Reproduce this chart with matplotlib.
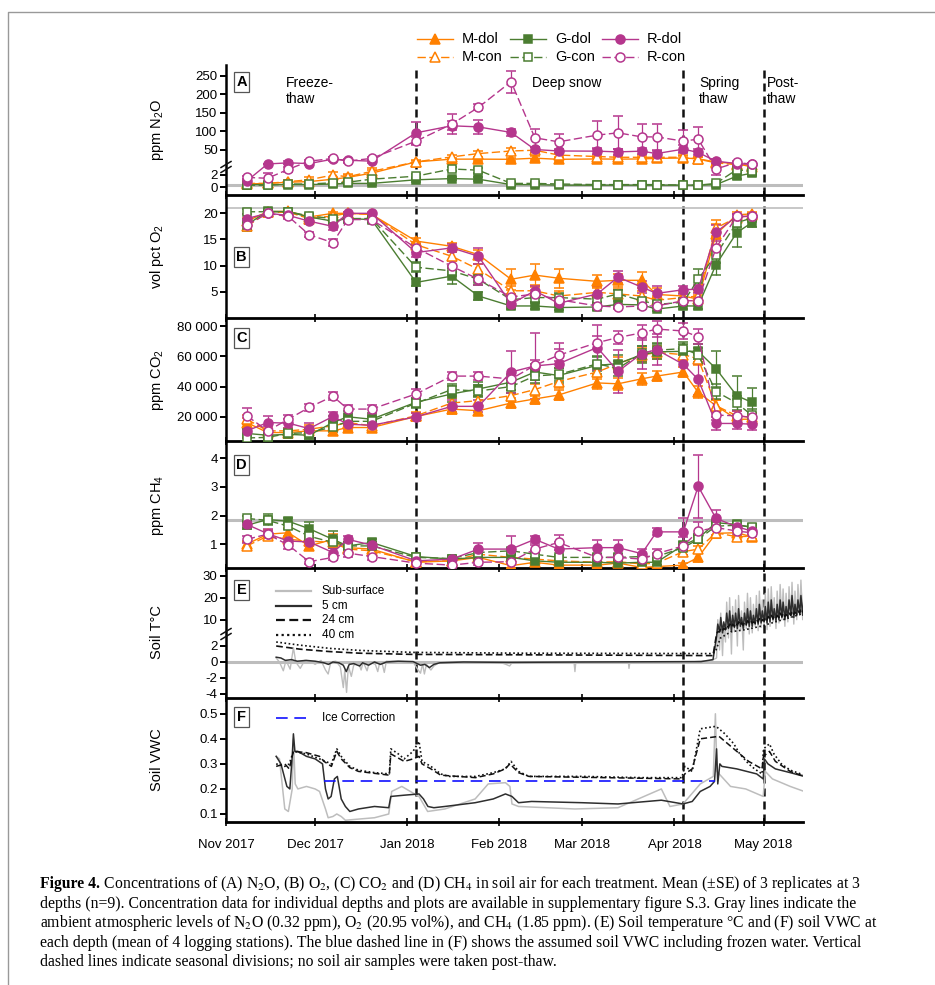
import datetime as dt
import numpy as np
import matplotlib
matplotlib.use("Agg")
import matplotlib.pyplot as plt
from matplotlib.lines import Line2D

plt.rcParams['font.family'] = ['Liberation Sans', 'DejaVu Sans']
plt.rcParams['mathtext.fontset'] = 'custom'
plt.rcParams['mathtext.rm'] = 'Liberation Sans'
plt.rcParams['mathtext.it'] = 'Liberation Sans:italic'
plt.rcParams['mathtext.bf'] = 'Liberation Sans:bold'

W, H = 935, 985
START = dt.date(2017, 11, 1)

# ---- soil-air sampling dates and treatment means (+SE) ----
sample_dates = ['2017-11-08', '2017-11-15', '2017-11-22', '2017-11-29', '2017-12-07',
                '2017-12-12', '2017-12-20', '2018-01-04', '2018-01-16', '2018-01-25',
                '2018-02-05', '2018-02-13', '2018-02-21', '2018-03-06', '2018-03-13',
                '2018-03-21', '2018-03-26', '2018-04-04', '2018-04-09', '2018-04-15',
                '2018-04-22', '2018-04-27']

# N2O (ppm)
n2o_mdol = [0.5, 0.6, 0.8, 0.9, 1.3, 1.6, 2.3, 17.6, 25, 25, 24.5, 27.6, 24.5, 25.5, 25, 25.5, 27, 28, 26, 17, 13, 4]
n2o_mcon = [0.6, 0.6, 0.9, 1.2, 2.0, 1.7, 2.6, 17.6, 31, 40, 47, 49, 36, 32, 30, 30, 30, 30, 25, 15, 10, 8]
n2o_gdol = [0.4, 0.4, 0.4, 0.4, 0.5, 0.6, 0.6, 1.2, 1.4, 1.3, 0.4, 0.4, 0.3, 0.3, 0.3, 0.3, 0.3, 0.3, 0.3, 0.4, 1.8, 2.3]
n2o_gcon = [0.3, 0.3, 0.5, 0.5, 0.7, 0.8, 1.3, 1.8, 3.0, 2.8, 0.6, 0.6, 0.5, 0.4, 0.4, 0.4, 0.4, 0.3, 0.3, 0.6, 2.9, 2.6]
n2o_rdol = [1.0, 12, 15, 13, 25, 22, 19.5, 96, 115, 112, 97, 51, 47, 46.5, 44.6, 46.5, 40, 52, 43, 19.5, 13, 10.6]
n2o_rcon = [1.6, 1.45, 2.95, 19.5, 26.8, 19.5, 27, 73.6, 119.5, 164.6, 234, 82.5, 71.7, 89.8, 96, 85, 85, 73.6, 79, 3.0, 16, 11.4]
n2o_mdol_se = [0.2, 0.2, 0.2, 0.3, 0.4, 0.4, 0.5, 3, 4, 4, 4, 5, 4, 5, 5, 4, 5, 6, 6, 5, 3, 2]
n2o_mcon_se = [0.2, 0.2, 0.3, 0.4, 0.5, 0.5, 0.6, 4, 6, 8, 8, 8, 6, 5, 5, 5, 5, 6, 5, 4, 3, 2]
n2o_gdol_se = [0.1, 0.1, 0.1, 0.1, 0.1, 0.1, 0.2, 0.3, 0.3, 0.3, 0.1, 0.1, 0.1, 0.1, 0.1, 0.1, 0.1, 0.1, 0.1, 0.1, 0.4, 0.4]
n2o_gcon_se = [0.1, 0.1, 0.1, 0.1, 0.2, 0.2, 0.3, 0.4, 0.4, 0.4, 0.2, 0.2, 0.1, 0.1, 0.1, 0.1, 0.1, 0.1, 0.1, 0.2, 0.4, 0.4]
n2o_rdol_se = [0.3, 1.0, 4, 4, 5, 4, 4, 30, 12, 18, 10, 8, 6, 8, 8, 8, 8, 10, 8, 6, 4, 3]
n2o_rcon_se = [0.3, 0.8, 0.5, 4, 5, 4, 5, 10, 28, 8, 30, 25, 22, 37, 45, 35, 35, 30, 32, 1.0, 4, 3]

# O2 (vol %)
o2_mdol = [18.5, 20.3, 20.4, 19.3, 20, 20, 19.8, 14.7, 13.7, 12.1, 7.4, 8.2, 7.6, 7.0, 7.2, 7.2, 4.5, 4.2, 3.6, 16, 19.7, 19.9]
o2_mcon = [17.5, 20.2, 20.2, 19.0, 19.5, 20, 19.8, 14, 11.8, 9.3, 5.2, 5.2, 4.2, 4.9, 4.6, 4.2, 3.4, 3.9, 4.2, 17.2, 19.2, 19.6]
o2_gdol = [17.8, 20.4, 20.3, 19.3, 18.5, 19, 18.8, 6.8, 8.0, 4.2, 2.3, 2.3, 2.0, 2.1, 2.6, 2.5, 1.7, 2.3, 2.3, 10.2, 16.3, 18.2]
o2_gcon = [20.3, 20.3, 20.3, 19.5, 19, 19, 19, 9.7, 9.0, 7.4, 3.5, 3.9, 3.9, 3.6, 4.6, 3.3, 2.6, 3.0, 7.4, 12.1, 18.2, 19.1]
o2_rdol = [19, 20, 19.6, 18.5, 17.5, 20, 20, 12.5, 13.4, 11.8, 2.7, 5.2, 2.8, 4.6, 7.8, 5.9, 4.7, 5.4, 5.5, 16.4, 19.4, 19.4]
o2_rcon = [17.7, 20, 19.4, 15.9, 14.4, 18.8, 18.8, 13.4, 9.9, 7.4, 4.0, 4.6, 3.5, 2.3, 2.1, 2.3, 2.3, 3.3, 3.3, 13.4, 19.4, 19.4]
o2_mdol_se = [0.6, 0.3, 0.3, 0.4, 0.3, 0.3, 0.3, 0.5, 0.6, 0.8, 2.0, 2.2, 1.8, 1.2, 1.2, 1.5, 1.2, 1.0, 0.8, 2.0, 0.5, 0.4]
o2_mcon_se = [0.6, 0.3, 0.3, 0.4, 0.4, 0.3, 0.3, 0.6, 0.8, 1.0, 1.0, 1.2, 1.0, 1.0, 1.0, 1.0, 0.8, 0.8, 0.8, 1.5, 0.6, 0.4]
o2_gdol_se = [1.2, 0.3, 0.3, 0.5, 0.6, 0.5, 0.4, 0.7, 1.5, 0.7, 0.5, 0.5, 0.5, 0.5, 0.6, 0.5, 0.4, 0.5, 0.5, 2.0, 2.8, 0.8]
o2_gcon_se = [0.5, 0.3, 0.3, 0.4, 0.4, 0.4, 0.4, 1.0, 1.0, 1.0, 0.8, 0.8, 0.8, 0.6, 0.8, 0.6, 0.5, 0.6, 2.0, 1.5, 0.8, 0.5]
o2_rdol_se = [0.8, 0.3, 0.4, 0.6, 0.6, 0.3, 0.3, 0.8, 0.8, 1.5, 0.6, 1.0, 0.6, 1.5, 1.2, 1.2, 1.5, 0.8, 0.8, 1.4, 0.5, 0.5]
o2_rcon_se = [0.8, 0.3, 0.4, 0.5, 0.6, 0.4, 0.4, 0.8, 1.0, 1.0, 0.6, 0.8, 0.6, 0.4, 0.4, 0.4, 0.4, 0.6, 0.6, 1.4, 0.5, 0.5]

# CO2 (ppm)
co2_mdol = [16200, 9600, 9600, 10700, 10700, 12900, 12900, 20200, 25100, 24000, 29100, 31800, 34400, 42400, 41800, 45100, 46900, 49600, 36200, 27300, 18400, 18400]
co2_mcon = [18400, 10700, 10700, 11800, 14000, 16200, 14000, 20700, 29100, 30700, 34000, 38000, 43300, 49600, 55100, 60700, 62500, 61100, 58400, 27300, 20700, 19600]
co2_gdol = [9000, 7800, 8400, 7800, 16200, 20000, 18400, 29600, 35100, 38400, 42900, 49600, 47300, 54000, 55100, 61100, 62900, 63300, 63300, 51800, 34000, 29600]
co2_gcon = [6000, 6400, 9000, 9500, 13300, 17000, 17000, 29000, 38000, 37000, 40000, 47000, 48000, 55000, 52000, 62000, 64000, 65100, 61000, 36700, 29100, 21100]
co2_rdol = [10700, 16200, 15800, 12200, 20200, 15100, 14400, 20000, 26900, 26900, 49600, 53600, 55100, 65800, 50000, 61800, 64400, 54700, 44700, 15600, 15600, 15100]
co2_rcon = [20700, 10700, 18400, 26200, 33600, 25100, 25100, 35100, 46900, 46900, 45000, 54000, 60700, 69000, 72400, 75500, 78000, 76700, 72900, 21100, 20700, 19600]
co2_mdol_se = [3000, 2000, 2000, 2500, 2500, 2500, 2000, 2000, 3000, 3000, 3000, 3500, 3500, 4000, 4000, 4000, 3500, 3500, 4000, 4000, 3000, 3000]
co2_mcon_se = [3000, 2000, 2000, 2500, 3000, 3000, 2500, 2500, 3000, 3000, 3500, 4000, 4000, 4500, 4500, 4500, 4000, 4000, 4000, 4000, 3000, 3000]
co2_gdol_se = [3000, 2500, 2500, 2500, 4000, 4000, 4000, 3000, 5000, 4500, 5000, 5000, 5000, 5500, 5500, 5500, 5000, 5000, 5000, 12000, 13000, 9500]
co2_gcon_se = [3000, 2500, 2500, 2500, 3500, 3500, 3500, 3000, 4000, 4000, 4500, 4500, 4500, 5000, 5000, 5000, 4500, 4500, 4500, 5000, 4500, 4000]
co2_rdol_se = [4500, 4000, 3000, 3500, 3000, 3000, 3000, 2500, 4000, 4000, 14000, 22000, 14000, 15000, 14000, 10000, 10000, 8000, 10000, 4000, 3500, 3500]
co2_rcon_se = [5000, 3000, 2500, 2500, 2500, 3000, 3000, 3000, 2500, 2500, 3000, 3500, 4000, 4500, 4500, 5000, 5000, 5000, 5000, 3000, 3000, 3000]

# CH4 (ppm)
ch4_mdol = [1.0, 1.35, 1.40, 0.94, 1.17, 0.88, 0.83, 0.37, 0.42, 0.54, 0.25, 0.37, 0.27, 0.27, 0.34, 0.19, 0.22, 0.27, 0.54, 1.38, 1.40, 1.26]
ch4_mcon = [0.94, 1.28, 1.17, 1.11, 1.06, 0.83, 0.77, 0.39, 0.42, 0.65, 0.54, 0.48, 0.42, 0.37, 0.39, 0.31, 0.34, 0.74, 0.83, 1.40, 1.26, 1.28]
ch4_gdol = [1.66, 1.86, 1.80, 1.54, 1.17, 0.94, 1.06, 0.57, 0.48, 0.54, 0.54, 0.42, 0.37, 0.37, 0.34, 0.37, 0.37, 0.97, 1.20, 1.75, 1.69, 1.58]
ch4_gcon = [1.90, 1.83, 1.63, 1.28, 1.06, 0.94, 0.94, 0.54, 0.50, 0.71, 0.77, 0.65, 0.54, 0.54, 0.54, 0.57, 0.57, 0.88, 1.17, 1.63, 1.66, 1.61]
ch4_rdol = [1.69, 1.37, 1.11, 1.08, 0.71, 1.17, 0.97, 0.42, 0.48, 0.83, 0.83, 1.17, 0.83, 0.88, 0.88, 0.67, 1.43, 1.43, 3.02, 1.90, 1.61, 1.46]
ch4_rcon = [1.17, 1.35, 0.97, 0.39, 0.54, 0.69, 0.57, 0.34, 0.27, 0.37, 0.39, 0.83, 1.06, 0.54, 0.54, 0.48, 0.67, 0.94, 1.46, 1.58, 1.46, 1.40]
ch4_mdol_se = [0.12, 0.15, 0.15, 0.15, 0.2, 0.12, 0.12, 0.08, 0.1, 0.1, 0.08, 0.1, 0.08, 0.08, 0.08, 0.06, 0.06, 0.08, 0.15, 0.15, 0.15, 0.1]
ch4_mcon_se = [0.12, 0.12, 0.12, 0.12, 0.12, 0.1, 0.1, 0.08, 0.08, 0.1, 0.1, 0.08, 0.08, 0.08, 0.08, 0.06, 0.06, 0.12, 0.12, 0.15, 0.12, 0.1]
ch4_gdol_se = [0.12, 0.2, 0.12, 0.25, 0.3, 0.12, 0.12, 0.08, 0.08, 0.1, 0.12, 0.1, 0.08, 0.08, 0.08, 0.08, 0.08, 0.12, 0.15, 0.1, 0.1, 0.1]
ch4_gcon_se = [0.1, 0.1, 0.1, 0.15, 0.2, 0.12, 0.12, 0.08, 0.08, 0.1, 0.1, 0.1, 0.08, 0.08, 0.08, 0.08, 0.08, 0.1, 0.12, 0.1, 0.1, 0.1]
ch4_rdol_se = [0.12, 0.15, 0.15, 0.15, 0.15, 0.12, 0.1, 0.08, 0.1, 0.2, 0.45, 0.12, 0.25, 0.25, 0.25, 0.15, 0.12, 0.5, 1.1, 0.3, 0.15, 0.12]
ch4_rcon_se = [0.12, 0.12, 0.12, 0.08, 0.1, 0.12, 0.12, 0.06, 0.06, 0.08, 0.08, 0.15, 0.25, 0.12, 0.12, 0.12, 0.15, 0.3, 0.3, 0.25, 0.15, 0.12]

# ---- soil temperature (deg C), logger means: (day since 1 Nov, value) ----
t_sub_winter = [(16.9, 0.5), (18.0, 0.0), (19.3, -1.1), (20.2, 0.2), (21.6, -0.9), (22.7, 1.8),
                (23.5, 0.0), (25.0, -0.8), (26.5, 0.2), (28.5, 0.1), (30.0, -0.3), (32.0, 0.2),
                (33.5, -1.0), (34.4, -1.5), (35.3, 0.0), (37.0, 0.1), (38.5, -0.6), (39.5, -3.2),
                (40.0, -1.0), (40.6, -3.8), (41.2, -0.5), (42.2, -1.8), (43.0, -0.4), (44.6, -0.1),
                (45.5, -1.0), (46.2, 0.0), (47.5, -1.1), (48.3, 0.0), (50.3, -0.3), (51.1, -1.2),
                (51.8, 0.0), (52.6, -0.2), (53.3, -1.3), (54.0, 0.1), (56, 0.1), (63, 0.0),
                (64.5, -0.9), (65.5, -1.4), (66.2, -0.2), (66.8, -1.5), (67.5, -0.3), (69.0, -1.0),
                (70, -0.5), (72, 0.0), (92, 0.0), (94.3, -0.3), (95.5, -0.5), (96.5, 0.0),
                (117.2, 0.0), (117.5, -1.2), (117.8, 0.0), (135.5, 0.0), (135.7, -0.8), (136, 0.0),
                (153, -0.1), (163.5, 0.2)]
t_5_winter = [(16.9, 0.6), (18.5, 0.5), (20, 0.2), (22, 0.3), (24, 0.1), (27, 0.2), (30, 0.1),
              (33, -0.1), (34.5, -0.3), (36, 0.0), (38, -0.1), (39.5, -0.4), (40.5, -1.2),
              (41.5, -0.3), (43, -0.2), (45, -0.5), (46, -0.1), (48, -0.4), (50, 0.0), (52, -0.3),
              (54, 0.0), (58, 0.1), (63, 0.05), (65.5, -0.4), (67, -0.3), (68.5, -0.7), (70, -0.3),
              (72, -0.1), (80, 0.0), (95, -0.05), (120, 0.0), (160, 0.05), (164, 0.3)]
t_24_winter = [(16.9, 2.0), (25, 1.6), (35, 1.3), (45, 1.1), (63, 0.95), (100, 0.9), (164, 0.8)]
t_40_all = [(16.9, 2.5), (25, 2.1), (35, 1.7), (45, 1.45), (63, 1.2), (100, 1.1), (164, 1.05),
            (165, 1.5), (166.5, 3.0), (170, 4.5), (175, 5.5), (180, 7), (185, 9), (190, 11), (194.7, 13)]

# spring thaw: daily minima / maxima from 14 Apr onward
spring_days = list(range(165, 195))
t_sub_max = [10, 13, 8, 18, 20, 16, 19, 21, 14, 18, 22, 20, 17, 21, 23, 19, 22, 24, 25, 20, 23, 26, 24, 22, 25, 27, 23, 26, 28, 25]
t_sub_min = [0.5, 1.5, 0.8, 2.5, 3.0, 1.0, 4.5, 2.0, 5.0, 1.5, 6.0, 3.5, 4.0, 7.0, 5.0, 6.5, 8.0, 5.5, 7.0, 9.0, 6.0, 8.5, 10.0, 7.0, 9.0, 11.0, 8.0, 10.0, 12.0, 10.0]
t_5_max = [8, 11, 9, 13, 14, 12, 13, 15, 11, 13, 15, 14, 12, 15, 17, 14, 16, 18, 19, 15, 17, 19, 18, 16, 19, 21, 17, 19, 21, 19]
t_5_min = [3.2, 4.5, 4.0, 5.5, 6.0, 5.0, 6.5, 6.0, 7.0, 6.0, 7.5, 7.0, 7.0, 8.0, 8.0, 8.5, 9.0, 8.5, 9.0, 10.0, 9.5, 10.0, 11.0, 10.0, 11.0, 12.0, 11.0, 12.0, 13.0, 12.0]
t_24_max = [4.5, 6, 6, 7.5, 8, 8, 8.5, 9, 8.5, 9, 9.5, 9.5, 9, 10, 10.5, 10, 11, 11.5, 12, 11.5, 12, 13, 13, 12.5, 13, 14, 13.5, 14, 15, 14.5]
t_24_min = [3.5, 4.5, 5, 5.5, 6.5, 6.5, 7, 7.5, 7.5, 7.5, 8, 8.5, 8.5, 8.5, 9, 9, 9.5, 10, 10.5, 10.5, 10.5, 11, 11.5, 11.5, 11.5, 12, 12.5, 12.5, 13, 13.5]

# ---- soil VWC (m3/m3): (day since 1 Nov, value) ----
vwc_sub = [(16.9, 0.33), (18.0, 0.32), (19.8, 0.12), (21.0, 0.11), (22.3, 0.20), (22.7, 0.40),
           (23.3, 0.22), (24.2, 0.20), (27.1, 0.21), (30.0, 0.20), (31.5, 0.19), (33.5, 0.12),
           (34.4, 0.085), (36, 0.09), (37.3, 0.10), (38.8, 0.09), (40.2, 0.075), (45, 0.08),
           (50, 0.085), (54.8, 0.10), (55.8, 0.19), (59.2, 0.21), (63.5, 0.18), (65, 0.17),
           (67.9, 0.11), (73.7, 0.12), (83.9, 0.16), (88.3, 0.22), (94.1, 0.225), (95.6, 0.21),
           (96.3, 0.14), (98.5, 0.13), (117.5, 0.12), (132, 0.125), (146.6, 0.20), (149.5, 0.13),
           (153.9, 0.14), (159.7, 0.22), (164.1, 0.25), (164.8, 0.50), (165.3, 0.27), (169.9, 0.21),
           (175, 0.20), (180.9, 0.17), (181.6, 0.27), (184, 0.24), (190, 0.21), (194.7, 0.19)]
vwc_5 = [(16.9, 0.33), (18.5, 0.30), (20.5, 0.21), (21.5, 0.20), (22.3, 0.33), (22.7, 0.42),
         (23.2, 0.35), (24.2, 0.35), (27.1, 0.33), (30.0, 0.32), (32.5, 0.30), (33.5, 0.20),
         (34.4, 0.16), (35.4, 0.17), (36.5, 0.24), (37.5, 0.25), (38.8, 0.16), (40.2, 0.13),
         (41.7, 0.11), (44.6, 0.12), (50, 0.13), (54.8, 0.125), (55.5, 0.17), (60, 0.175),
         (65, 0.18), (66.5, 0.16), (68, 0.13), (70, 0.125), (73.7, 0.13), (83.9, 0.145),
         (90, 0.16), (94.1, 0.18), (96.3, 0.17), (98.5, 0.145), (102.9, 0.15), (120, 0.145),
         (132, 0.14), (146.6, 0.155), (153.9, 0.14), (157, 0.15), (159.7, 0.19), (163, 0.21),
         (164.5, 0.23), (165.2, 0.36), (165.6, 0.22), (166.3, 0.30), (167, 0.29), (172, 0.28),
         (178.7, 0.26), (180.9, 0.24), (181.3, 0.32), (182.5, 0.30), (185, 0.28), (190, 0.265),
         (194.7, 0.25)]
vwc_24 = [(16.9, 0.29), (19.8, 0.30), (21.3, 0.28), (22.7, 0.35), (27, 0.345), (31.5, 0.33),
          (33, 0.31), (35.5, 0.29), (37.3, 0.35), (38.8, 0.32), (41.7, 0.285), (44.6, 0.27),
          (55, 0.255), (55.5, 0.34), (60, 0.31), (63, 0.32), (65, 0.33), (66, 0.30), (69, 0.28),
          (72.3, 0.255), (84, 0.245), (90, 0.26), (94, 0.28), (95.6, 0.30), (98.5, 0.265),
          (102, 0.25), (153.5, 0.24), (154.5, 0.26), (157, 0.28), (159.7, 0.40), (166, 0.41),
          (168, 0.39), (172, 0.35), (176, 0.31), (180.5, 0.28), (181, 0.33), (183, 0.35),
          (185, 0.31), (190, 0.27), (194.7, 0.25)]
vwc_40 = [(16.9, 0.30), (19.8, 0.29), (21.3, 0.30), (22.7, 0.35), (27, 0.34), (31.5, 0.32),
          (33.5, 0.31), (35.5, 0.30), (37.3, 0.36), (38.8, 0.33), (41.7, 0.29), (44.6, 0.275),
          (50, 0.265), (55, 0.26), (55.5, 0.36), (58, 0.34), (60, 0.32), (63, 0.35), (65, 0.39),
          (66, 0.31), (69, 0.29), (72.3, 0.26), (75, 0.25), (84, 0.25), (90, 0.265), (94, 0.28),
          (96, 0.31), (98.5, 0.27), (102, 0.25), (120, 0.25), (140, 0.245), (153.5, 0.245),
          (154.5, 0.29), (157, 0.27), (159.7, 0.44), (165, 0.45), (168, 0.42), (171, 0.38),
          (173, 0.34), (176, 0.30), (178, 0.28), (180.5, 0.26), (181, 0.36), (183, 0.38),
          (184.5, 0.34), (187, 0.30), (190, 0.275), (194.7, 0.255)]
ice_vwc = 0.23
ice_span = (32.9, 164.8)

# ambient atmospheric levels
amb_n2o, amb_o2, amb_ch4 = 0.32, 20.95, 1.85
season_breaks = [dt.date(2018, 1, 4), dt.date(2018, 4, 4), dt.date(2018, 5, 1)]
month_starts = [dt.date(2017, 11, 1), dt.date(2017, 12, 1), dt.date(2018, 1, 1), dt.date(2018, 2, 1),
                dt.date(2018, 3, 1), dt.date(2018, 4, 1), dt.date(2018, 5, 1)]
month_labels = ['Nov 2017', 'Dec 2017', 'Jan 2018', 'Feb 2018', 'Mar 2018', 'Apr 2018', 'May 2018']

ORANGE, GREEN, MAGENTA = '#FF8000', '#4B7D31', '#B5368D'
LIGHT, DARK = '#BDBDBD', '#2E2E2E'


def day(d):
    return (d - START).days


xs = np.array([day(dt.date.fromisoformat(s)) for s in sample_dates], float)


def fx(px):
    return px / W


def fy(py):
    return 1 - py / H


def broken(b, lo, hi):
    # piecewise-linear y axis: steep below the break, compressed above it
    def fwd(v):
        v = np.asarray(v, float)
        return np.where(v <= b, v * lo, b * lo + (v - b) * hi)

    def inv(u):
        u = np.asarray(u, float)
        return np.where(u <= b * lo, u / lo, b + (u - b * lo) / hi)
    return fwd, inv


fig = plt.figure(figsize=(W / 100, H / 100), dpi=100)

panels = [(65, 195), (195, 318), (318, 441), (441, 568), (568, 698), (698, 822)]
axes = []
for top, bot in panels:
    ax = fig.add_axes([fx(226), fy(bot), fx(803) - fx(226), (bot - top) / H])
    ax.patch.set_alpha(0)
    for s in ('top', 'right'):
        ax.spines[s].set_visible(False)
    ax.spines['left'].set_linewidth(1.8)
    ax.spines['bottom'].set_linewidth(2.0)
    ax.set_xlim(0, 194.3)
    ax.set_xticks([day(m) for m in month_starts])
    ax.tick_params(axis='x', direction='inout', length=6, width=1.2, labelbottom=False)
    ax.tick_params(axis='y', direction='out', length=4, width=1.4, pad=2, labelsize=9.5)
    for b in season_breaks:
        ax.axvline(day(b), color='#111111', lw=1.8, ls=(0, (3.2, 2.0)), zorder=1)
    axes.append(ax)
axA, axB, axC, axD, axE, axF = axes

axF.tick_params(axis='x', labelbottom=True, labelsize=9.5, pad=9)
axF.set_xticklabels(month_labels)

series_style = [
    ('M-dol', ORANGE, '^', True), ('M-con', ORANGE, '^', False),
    ('G-dol', GREEN, 's', True), ('G-con', GREEN, 's', False),
    ('R-dol', MAGENTA, 'o', True), ('R-con', MAGENTA, 'o', False),
]


def draw_gas(ax, means, ses):
    for (name, col, mk, filled), y, e in zip(series_style, means, ses):
        ax.errorbar(xs, y, yerr=e, color=col, lw=1.0, ls='-' if filled else (0, (6, 2.5)),
                    marker=mk, ms=6.5 if mk != 's' else 6, mfc=col if filled else 'white',
                    mec=col, mew=1.1, capsize=3.5, elinewidth=0.9, capthick=0.9, zorder=3)


# A: N2O
axA.set_yscale('function', functions=broken(3.3, 6.0, 0.37))
axA.axhline(amb_n2o, color=LIGHT, lw=2.2, zorder=2)
draw_gas(axA, [n2o_mdol, n2o_mcon, n2o_gdol, n2o_gcon, n2o_rdol, n2o_rcon],
         [n2o_mdol_se, n2o_mcon_se, n2o_gdol_se, n2o_gcon_se, n2o_rdol_se, n2o_rcon_se])
axA.set_ylim(-1.33, 279)
axA.set_yticks([0, 2, 50, 100, 150, 200, 250])
axA.set_yticklabels(['0', '2', '50', '100', '150', '200', '250'])
axA.yaxis.set_minor_locator(plt.NullLocator())

# B: O2
axB.axhline(amb_o2, color=LIGHT, lw=1.2, zorder=2)
draw_gas(axB, [o2_mdol, o2_mcon, o2_gdol, o2_gcon, o2_rdol, o2_rcon],
         [o2_mdol_se, o2_mcon_se, o2_gdol_se, o2_gcon_se, o2_rdol_se, o2_rcon_se])
axB.set_ylim(0, 23.5)
axB.set_yticks([5, 10, 15, 20])

# C: CO2
draw_gas(axC, [co2_mdol, co2_mcon, co2_gdol, co2_gcon, co2_rdol, co2_rcon],
         [co2_mdol_se, co2_mcon_se, co2_gdol_se, co2_gcon_se, co2_rdol_se, co2_rcon_se])
axC.set_ylim(4000, 85300)
axC.set_yticks([20000, 40000, 60000, 80000])
axC.set_yticklabels(['20 000', '40 000', '60 000', '80 000'])

# D: CH4
axD.axhline(amb_ch4, color=LIGHT, lw=2.2, zorder=2)
draw_gas(axD, [ch4_mdol, ch4_mcon, ch4_gdol, ch4_gcon, ch4_rdol, ch4_rcon],
         [ch4_mdol_se, ch4_mcon_se, ch4_gdol_se, ch4_gcon_se, ch4_rdol_se, ch4_rcon_se])
axD.set_ylim(0.17, 4.6)
axD.set_yticks([1, 2, 3, 4])


def knots(pts):
    a = np.array(pts, float)
    return a[:, 0], a[:, 1]


def diurnal(days, lows, highs):
    t, v = [], []
    for d, lo, hi in zip(days, lows, highs):
        t += [d + 0.2, d + 0.6]
        v += [lo, hi]
    return np.array(t), np.array(v)


# E: soil temperature
axE.set_yscale('function', functions=broken(3.5, 8.0, 2.2))
axE.axhline(0, color=LIGHT, lw=2.2, zorder=1)
t1, v1 = knots(t_sub_winter)
t2, v2 = diurnal(spring_days, t_sub_min, t_sub_max)
axE.plot(np.r_[t1, t2], np.r_[v1, v2], color=LIGHT, lw=1.0, zorder=2)
t1, v1 = knots(t_5_winter)
t2, v2 = diurnal(spring_days, t_5_min, t_5_max)
axE.plot(np.r_[t1, t2], np.r_[v1, v2], color=DARK, lw=1.1, zorder=3)
t1, v1 = knots(t_24_winter)
t2, v2 = diurnal(spring_days, t_24_min, t_24_max)
axE.plot(np.r_[t1, t2], np.r_[v1, v2], color='#111111', lw=1.2, ls=(0, (4, 2)), zorder=3)
t1, v1 = knots(t_40_all)
axE.plot(t1, v1, color='#111111', lw=1.2, ls=(0, (1, 1.5)), zorder=3)
axE.set_ylim(-4.5, 33.5)
axE.set_yticks([-4, -2, 0, 2, 10, 20, 30])
axE.set_yticklabels(['-4', '-2', '0', '2', '10', '20', '30'])
axE.yaxis.set_minor_locator(plt.NullLocator())

# F: soil VWC
t1, v1 = knots(vwc_sub)
axF.plot(t1, v1, color=LIGHT, lw=1.1, zorder=2)
t1, v1 = knots(vwc_5)
axF.plot(t1, v1, color=DARK, lw=1.1, zorder=3)
t1, v1 = knots(vwc_24)
axF.plot(t1, v1, color='#111111', lw=1.1, ls=(0, (4, 2)), zorder=3)
t1, v1 = knots(vwc_40)
axF.plot(t1, v1, color='#111111', lw=1.2, ls=(0, (1, 1.5)), zorder=3)
axF.plot(ice_span, [ice_vwc, ice_vwc], color='#1010FF', lw=1.2, ls=(0, (7, 4)), zorder=4)
axF.set_ylim(0.068, 0.563)
axF.set_yticks([0.1, 0.2, 0.3, 0.4, 0.5])

# axis-break marks on the left spine
for ax, py in ((axA, 167), (axE, 634)):
    for dy in (-2.5, 2.5):
        fig.add_artist(Line2D([fx(221), fx(231)], [fy(py + dy + 3), fy(py + dy - 3)],
                              color='#111111', lw=1.1))

# panel letters
for ax, letter, py in ((axA, 'A', 82), (axB, 'B', 257), (axC, 'C', 338),
                       (axD, 'D', 465), (axE, 'E', 590), (axF, 'F', 717)):
    fig.text(fx(241.5), fy(py), letter, ha='center', va='center', fontsize=10.5,
             fontweight='bold', bbox=dict(boxstyle='square,pad=0.18', fc='white',
                                          ec='#555555', lw=0.9))

# y-axis titles
for label, py in (('ppm N$_2$O', 130), ('vol pct O$_2$', 256), ('ppm CO$_2$', 380),
                  ('ppm CH$_4$', 505), ('Soil T°C', 632), ('Soil VWC', 760)):
    fig.text(fx(157), fy(py), label, rotation=90, ha='center', va='center', fontsize=10.5)

# season names
for txt, px, py in (('Freeze-\nthaw', 286, 91), ('Deep snow', 532, 83),
                    ('Spring\nthaw', 699, 91), ('Post-\nthaw', 767, 91)):
    fig.text(fx(px), fy(py), txt, ha='left', va='center', fontsize=10, linespacing=1.15)

# treatment legend
for col, (x0, group) in enumerate(((417, series_style[0:2]), (510, series_style[2:4]),
                                   (602, series_style[4:6]))):
    for row, (name, c, mk, filled) in enumerate(group):
        py = 39 + 18 * row
        fig.add_artist(Line2D([fx(x0), fx(x0 + 18), fx(x0 + 36)], [fy(py)] * 3, color=c,
                              lw=1.0, ls='-' if filled else (0, (6, 2.5)), marker=mk,
                              markevery=[1], ms=6.5 if mk != 's' else 6,
                              mfc=c if filled else 'white', mec=c, mew=1.1))
        fig.text(fx(x0 + 45), fy(py), name, ha='left', va='center', fontsize=10.5)

# depth legend in E
depth_keys = [('Sub-surface', LIGHT, '-', 1.6), ('5 cm', DARK, '-', 1.6),
              ('24 cm', '#111111', (0, (4, 2)), 1.6), ('40 cm', '#111111', (0, (1, 1.5)), 1.6)]
for i, (name, c, ls, lw) in enumerate(depth_keys):
    py = 591 + 14.6 * i
    fig.add_artist(Line2D([fx(276), fx(311)], [fy(py)] * 2, color=c, ls=ls, lw=lw))
    fig.text(fx(322), fy(py), name, ha='left', va='center', fontsize=8.5)
fig.add_artist(Line2D([fx(276), fx(311)], [fy(718)] * 2, color='#1010FF', ls=(0, (7, 4)), lw=1.2))
fig.text(fx(322), fy(718), 'Ice Correction', ha='left', va='center', fontsize=8.5)

# page frame
fig.add_artist(Line2D([fx(8), fx(8), fx(W)], [0, fy(12), fy(12)], color='#999999', lw=1.0))

# caption
cap = dict(fontsize=11.3, family='Liberation Serif', math_fontfamily='stix', va='baseline')
lines = [
    ' Concentrations of (A) N$_2$O, (B) O$_2$, (C) CO$_2$ and (D) CH$_4$ in soil air for each '
    'treatment. Mean (±SE) of 3 replicates at 3',
    'depths (n=9). Concentration data for individual depths and plots are available in '
    'supplementary figure S.3. Gray lines indicate the',
    'ambient atmospheric levels of N$_2$O (0.32 ppm), O$_2$ (20.95 vol%), and CH$_4$ (1.85 ppm). '
    '(E) Soil temperature °C and (F) soil VWC at',
    'each depth (mean of 4 logging stations). The blue dashed line in (F) shows the assumed '
    'soil VWC including frozen water. Vertical',
    'dashed lines indicate seasonal divisions; no soil air samples were taken post-thaw.',
]
head = fig.text(fx(40), fy(888), 'Figure 4.', fontweight='bold', **cap)
renderer = fig.canvas.get_renderer()
hw = head.get_window_extent(renderer).width
for i, ln in enumerate(lines):
    x0 = 40 + (hw if i == 0 else 0)
    fig.text(fx(x0), fy(888 + 19.6 * i), ln, **cap)

fig.savefig('out.png', dpi=100)
